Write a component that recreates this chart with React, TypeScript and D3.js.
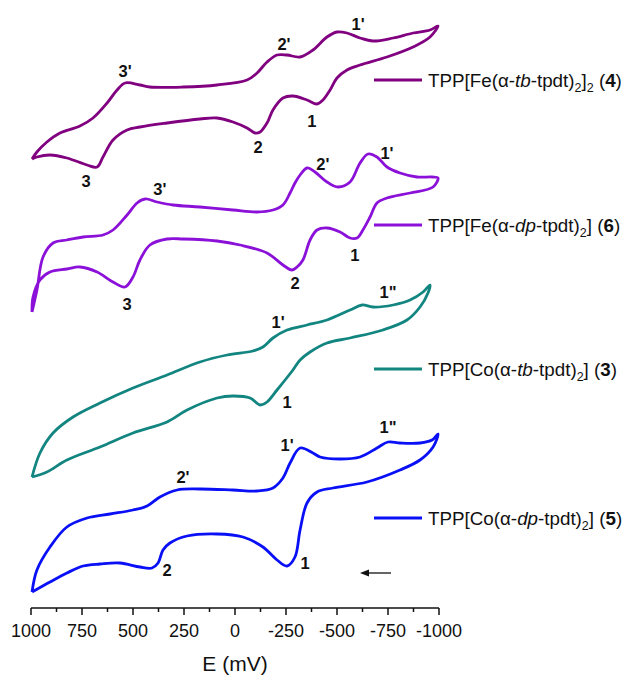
import React from 'react';
import * as d3 from 'd3';

// ---------- data ----------
const E_MAJOR_TICKS = [1000, 750, 500, 250, 0, -250, -500, -750, -1000];
const E_MINOR_TICKS = [875, 625, 375, 125, -125, -375, -625, -875];

// TPP[Fe(α-tb-tpdt)2]2 (4)  — potential (mV) and offset current (a.u.)
const feTbE = [995, 971, 922, 858, 760, 696, 627, 578, 539, 466, 417, 255, 88, -59, -108, -157, -206, -255, -319, -382, -451, -500, -549, -613, -676, -775, -873, -956, -995,
  -956, -873, -745, -613, -549, -500, -466, -431, -402, -353, -284, -235, -186, -157, -123, -98, -59, 10, 88, 172, 333, 466, 529, 598, 647, 676, 725, 824, 907, 971, 995];
const feTbI = [449, 456, 466, 475, 482, 490, 505, 518, 525, 523, 521, 521, 523, 528, 535, 546, 553, 553, 551, 558, 571, 576, 575, 570, 567, 570, 575, 578, 582,
  571, 561, 551, 543, 538, 530, 518, 508, 504, 508, 512, 510, 498, 485, 476, 475, 480, 486, 490, 489, 485, 481, 478, 468, 451, 441, 443, 450, 453, 451, 449];

// TPP[Fe(α-dp-tpdt)2] (6)
const feDpE = [995, 971, 941, 892, 824, 745, 647, 598, 529, 480, 441, 382, 304, 172, 10, -108, -186, -235, -270, -294, -319, -353, -392, -451, -505, -564, -613, -652, -696, -745, -809, -892, -966, -995,
  -971, -858, -745, -696, -662, -627, -598, -564, -515, -451, -402, -368, -333, -304, -279, -235, -157, -25, 88, 255, 333, 417, 466, 500, 539, 598, 676, 760, 824, 907, 956, 990, 995];
const feDpI = [296, 318, 351, 365, 368, 371, 373, 378, 393, 405, 409, 406, 403, 401, 398, 396, 398, 403, 415, 425, 433, 440, 436, 426, 421, 426, 445, 454, 451, 441, 435, 431, 431, 430,
  421, 415, 410, 405, 391, 378, 370, 370, 376, 380, 378, 368, 348, 341, 338, 343, 355, 363, 367, 369, 369, 363, 348, 331, 321, 326, 336, 341, 339, 336, 328, 311, 296];

// TPP[Co(α-tb-tpdt)2] (3)
const coTbE = [995, 956, 892, 794, 662, 500, 333, 172, 39, -88, -137, -186, -255, -353, -451, -564, -623, -676, -775, -858, -922, -956,
  -946, -907, -843, -725, -564, -451, -368, -319, -284, -206, -157, -123, -74, 10, 88, 235, 333, 500, 662, 824, 922, 995];
const coTbI = [131, 155, 175, 191, 205, 220, 233, 246, 253, 257, 261, 270, 278, 283, 288, 298, 303, 301, 303, 308, 316, 323,
  315, 301, 288, 278, 270, 265, 256, 248, 238, 218, 206, 203, 210, 212, 210, 198, 186, 175, 161, 148, 136, 131];

// TPP[Co(α-dp-tpdt)2] (5)
const coDpE = [995, 971, 907, 824, 725, 613, 500, 431, 368, 284, 172, 10, -108, -186, -235, -270, -319, -382, -417, -515, -613, -696, -750, -809, -907, -966, -995,
  -971, -907, -809, -647, -480, -402, -353, -319, -294, -255, -206, -137, -39, 88, 235, 319, 353, 377, 407, 466, 564, 662, 745, 824, 907, 995];
const coDpI = [16, 38, 61, 81, 90, 94, 98, 102, 111, 118, 119, 118, 117, 120, 130, 145, 160, 155, 151, 149, 151, 160, 166, 165, 165, 168, 174,
  161, 148, 138, 126, 120, 116, 105, 78, 51, 42, 48, 61, 71, 74, 72, 65, 58, 45, 40, 41, 45, 44, 42, 35, 26, 16];

// peak annotations: text, E (mV), I (a.u.)
const peakText = ["3'", "2'", "1'", "1", "2", "3", "3'", "2'", "1'", "1", "2", "3", "1'", '1"', "1", "2'", "1'", '1"', "1", "2"];
const peakE = [539, -240, -603, -377, -113, 730, 368, -431, -745, -588, -294, 529, -211, -750, -255, 255, -255, -750, -343, 333];
const peakI = [537, 564, 584, 487, 461, 427, 419, 444, 455, 353, 325, 304, 286, 316, 206, 131, 163, 181, 45, 38];

const seriesMetal = ['Fe', 'Fe', 'Co', 'Co'];
const seriesLigand = ['tb', 'dp', 'tb', 'dp'];
const seriesOuterSub = ['2', '', '', ''];
const seriesNumber = ['4', '6', '3', '5'];
const seriesColor = ['#800080', '#8B10D8', '#128580', '#0A10F5'];

// ---------- layout ----------
const W = 631;
const H = 679;
const FONT = 'Liberation Sans, Arial, Helvetica, sans-serif';

export default function App() {
  const x = d3.scaleLinear().domain([1000, -1000]).range([31, 439]);
  const y = d3.scaleLinear().domain([0, 600]).range([608, 8]);
  const line = d3
    .line<[number, number]>()
    .x((d) => x(d[0]))
    .y((d) => y(d[1]))
    .curve(d3.curveCatmullRom.alpha(0.5));

  const curves = [
    [feTbE, feTbI],
    [feDpE, feDpI],
    [coTbE, coTbI],
    [coDpE, coDpI],
  ];

  const legendY = [80, 225, 369, 518];
  const axisY = y(0);
  const arrowY = 573;
  const arrowTip = 360;
  const arrowTail = 391;

  return (
    <svg
      width={W}
      height={H}
      style={{ position: 'absolute', left: 0, top: 0, background: '#fff' }}
      fontFamily={FONT}
    >
      {curves.map(([es, is], k) => (
        <path
          key={k}
          d={line(es.map((e, i) => [e, is[i]] as [number, number])) || ''}
          fill="none"
          stroke={seriesColor[k]}
          strokeWidth={2.8}
          strokeLinejoin="round"
        />
      ))}

      {peakText.map((t, i) => (
        <text
          key={i}
          x={x(peakE[i])}
          y={y(peakI[i]) + 6}
          textAnchor="middle"
          fontSize={16.5}
          fontWeight="bold"
          fill="#111"
        >
          {t}
        </text>
      ))}

      {/* legend */}
      {seriesColor.map((c, k) => (
        <g key={k}>
          <line x1={374} x2={422} y1={legendY[k]} y2={legendY[k]} stroke={c} strokeWidth={2.8} />
          <text x={428} y={legendY[k] + 7} fontSize={18.8} fill="#111">
            <tspan>{`TPP[${seriesMetal[k]}(α-`}</tspan>
            <tspan fontStyle="italic">{seriesLigand[k]}</tspan>
            <tspan>-tpdt)</tspan>
            <tspan fontSize={12.5} dy={5}>2</tspan>
            <tspan dy={-5}>]</tspan>
            {seriesOuterSub[k] ? (
              <>
                <tspan fontSize={12.5} dy={5}>{seriesOuterSub[k]}</tspan>
                <tspan dy={-5}> (</tspan>
              </>
            ) : (
              <tspan> (</tspan>
            )}
            <tspan fontWeight="bold">{seriesNumber[k]}</tspan>
            <tspan>)</tspan>
          </text>
        </g>
      ))}

      {/* scan direction arrow */}
      <line x1={arrowTip + 6} x2={arrowTail} y1={arrowY} y2={arrowY} stroke="#111" strokeWidth={1.3} />
      <path d={`M${arrowTip},${arrowY} l9,-3.5 l0,7 z`} fill="#111" />

      {/* x axis */}
      <line x1={x(1000)} x2={x(-1000)} y1={axisY} y2={axisY} stroke="#111" strokeWidth={1.5} />
      {E_MAJOR_TICKS.map((t) => (
        <g key={t}>
          <line x1={x(t)} x2={x(t)} y1={axisY} y2={axisY + 7} stroke="#111" strokeWidth={1.5} />
          <text x={x(t)} y={637} textAnchor="middle" fontSize={18} fill="#111">
            {String(t)}
          </text>
        </g>
      ))}
      {E_MINOR_TICKS.map((t) => (
        <line key={t} x1={x(t)} x2={x(t)} y1={axisY} y2={axisY + 4} stroke="#111" strokeWidth={1.5} />
      ))}
      <text x={x(0)} y={671} textAnchor="middle" fontSize={21} fill="#111">
        E (mV)
      </text>
    </svg>
  );
}
